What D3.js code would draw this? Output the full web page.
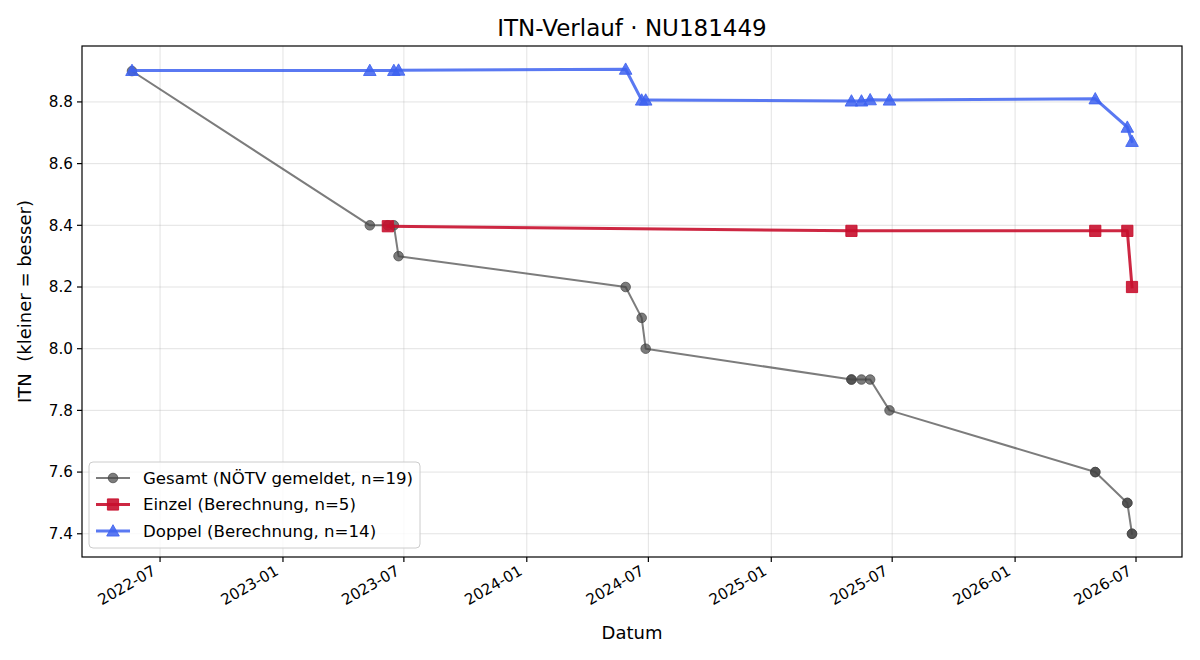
<!DOCTYPE html>
<html>
<head>
<meta charset="utf-8">
<script src="https://cdn.jsdelivr.net/npm/d3@7"></script>
<style>
  body { margin: 0; background: #fff; }
  text { font-family: "DejaVu Sans", sans-serif; fill: #000; }
</style>
</head>
<body>
<script>
// Gesamt (NÖTV gemeldet)
var gesamtDates = ['2022-05-20', '2023-05-11', '2023-06-07', '2023-06-16', '2023-06-23',
  '2024-05-28', '2024-06-21', '2024-06-27', '2025-05-01', '2025-05-01', '2025-05-16',
  '2025-05-29', '2025-06-27', '2026-05-01', '2026-05-01', '2026-06-18', '2026-06-18',
  '2026-06-25', '2026-06-25'];
var gesamtValues = [8.9, 8.4, 8.4, 8.4, 8.3, 8.2, 8.1, 8.0, 7.9, 7.9, 7.9, 7.9, 7.8,
  7.6, 7.6, 7.5, 7.5, 7.4, 7.4];

// Einzel (Berechnung)
var einzelDates = ['2023-06-07', '2025-05-01', '2026-05-01', '2026-06-18', '2026-06-25'];
var einzelValues = [8.397, 8.382, 8.382, 8.382, 8.2];

// Doppel (Berechnung)
var doppelDates = ['2022-05-20', '2023-05-11', '2023-06-16', '2023-06-23', '2024-05-28',
  '2024-06-21', '2024-06-27', '2025-05-01', '2025-05-16', '2025-05-29', '2025-06-27',
  '2026-05-01', '2026-06-18', '2026-06-25'];
var doppelValues = [8.902, 8.902, 8.902, 8.903, 8.906, 8.806, 8.806, 8.803, 8.803,
  8.807, 8.806, 8.81, 8.718, 8.672];

var yTicks = [7.4, 7.6, 7.8, 8.0, 8.2, 8.4, 8.6, 8.8];

var parse = d3.timeParse('%Y-%m-%d');
function zip(dates, values) {
  return dates.map(function (d, i) { return {date: parse(d), value: values[i]}; });
}

var series = [
  {name: 'Gesamt (NÖTV gemeldet, n=19)', data: zip(gesamtDates, gesamtValues),
   color: '#444444', opacity: 0.7, width: 2, marker: 'circle', size: 4.8},
  {name: 'Einzel (Berechnung, n=5)', data: zip(einzelDates, einzelValues),
   color: '#c8102e', opacity: 0.9, width: 3, marker: 'square', size: 5.6},
  {name: 'Doppel (Berechnung, n=14)', data: zip(doppelDates, doppelValues),
   color: '#3d62f0', opacity: 0.85, width: 3, marker: 'triangle', size: 6.3}
];

var width = 1200, height = 660;
var margin = {top: 46, right: 18, bottom: 103, left: 82};
var innerW = width - margin.left - margin.right;
var innerH = height - margin.top - margin.bottom;

var svg = d3.select('body').append('svg')
    .attr('width', width)
    .attr('height', height);

var all = [];
series.forEach(function (s) { all = all.concat(s.data); });

var xExt = d3.extent(all, function (d) { return d.date; });
var xPad = (xExt[1] - xExt[0]) * 0.05;
var x = d3.scaleTime()
    .domain([new Date(+xExt[0] - xPad), new Date(+xExt[1] + xPad)])
    .range([0, innerW]);

var yExt = d3.extent(all, function (d) { return d.value; });
var yPad = (yExt[1] - yExt[0]) * 0.05;
var y = d3.scaleLinear()
    .domain([yExt[0] - yPad, yExt[1] + yPad])
    .range([innerH, 0]);

var g = svg.append('g')
    .attr('transform', 'translate(' + margin.left + ',' + margin.top + ')');

var xTicks = x.ticks(d3.timeMonth.every(6));

// grid
g.append('g').selectAll('line.vx')
    .data(xTicks)
    .enter().append('line')
    .attr('x1', function (d) { return x(d); })
    .attr('x2', function (d) { return x(d); })
    .attr('y1', 0).attr('y2', innerH)
    .attr('stroke', '#b0b0b0').attr('stroke-opacity', 0.35).attr('stroke-width', 1);

g.append('g').selectAll('line.hy')
    .data(yTicks)
    .enter().append('line')
    .attr('x1', 0).attr('x2', innerW)
    .attr('y1', function (d) { return y(d); })
    .attr('y2', function (d) { return y(d); })
    .attr('stroke', '#b0b0b0').attr('stroke-opacity', 0.35).attr('stroke-width', 1);

// series
var line = d3.line()
    .x(function (d) { return x(d.date); })
    .y(function (d) { return y(d.value); });

function markerPath(s) {
  var r = s.size;
  if (s.marker === 'circle') return d3.symbol(d3.symbolCircle, Math.PI * r * r)();
  if (s.marker === 'square') return d3.symbol(d3.symbolSquare, 4 * r * r)();
  return 'M0,' + (-r) + 'L' + r + ',' + (r * 0.8) + 'L' + (-r) + ',' + (r * 0.8) + 'Z';
}

series.forEach(function (s) {
  var sg = g.append('g');
  sg.append('path')
      .datum(s.data)
      .attr('d', line)
      .attr('fill', 'none')
      .attr('stroke', s.color)
      .attr('stroke-opacity', s.opacity)
      .attr('stroke-width', s.width)
      .attr('stroke-linejoin', 'round')
      .attr('stroke-linecap', 'square');

  sg.selectAll('path.m')
      .data(s.data)
      .enter().append('path')
      .attr('class', 'm')
      .attr('d', markerPath(s))
      .attr('transform', function (d) {
        return 'translate(' + x(d.date) + ',' + y(d.value) + ')';
      })
      .attr('fill', s.color)
      .attr('fill-opacity', s.opacity)
      .attr('stroke', s.color)
      .attr('stroke-opacity', s.opacity)
      .attr('stroke-width', 1);
});

// frame
g.append('rect')
    .attr('width', innerW).attr('height', innerH)
    .attr('fill', 'none').attr('stroke', '#000').attr('stroke-width', 1.2);

// x axis
var xAxis = g.append('g')
    .attr('transform', 'translate(0,' + innerH + ')');
xAxis.selectAll('line')
    .data(xTicks)
    .enter().append('line')
    .attr('x1', function (d) { return x(d); })
    .attr('x2', function (d) { return x(d); })
    .attr('y1', 0).attr('y2', 5)
    .attr('stroke', '#000').attr('stroke-width', 1.2);
xAxis.selectAll('text')
    .data(xTicks)
    .enter().append('text')
    .attr('transform', function (d) {
      return 'translate(' + (x(d) - 9) + ',' + 7 + ') rotate(-30)';
    })
    .attr('text-anchor', 'end')
    .attr('dy', '0.75em')
    .style('font-size', '15.2px')
    .text(d3.timeFormat('%Y-%m'));

// y axis
var yAxis = g.append('g');
yAxis.selectAll('line')
    .data(yTicks)
    .enter().append('line')
    .attr('x1', -5).attr('x2', 0)
    .attr('y1', function (d) { return y(d); })
    .attr('y2', function (d) { return y(d); })
    .attr('stroke', '#000').attr('stroke-width', 1.2);
yAxis.selectAll('text')
    .data(yTicks)
    .enter().append('text')
    .attr('x', -9)
    .attr('y', function (d) { return y(d); })
    .attr('dy', '0.35em')
    .attr('text-anchor', 'end')
    .style('font-size', '15.2px')
    .text(d3.format('.1f'));

// labels
svg.append('text')
    .attr('x', margin.left + innerW / 2)
    .attr('y', 36)
    .attr('text-anchor', 'middle')
    .style('font-size', '23px')
    .text('ITN-Verlauf · NU181449');

svg.append('text')
    .attr('x', margin.left + innerW / 2)
    .attr('y', 639)
    .attr('text-anchor', 'middle')
    .style('font-size', '18px')
    .text('Datum');

svg.append('text')
    .attr('transform', 'translate(31,' + (margin.top + innerH / 2) + ') rotate(-90)')
    .attr('text-anchor', 'middle')
    .style('font-size', '18px')
    .text('ITN\u00a0\u00a0(kleiner = besser)');

// legend
var legend = svg.append('g').attr('transform', 'translate(89,462)');
legend.append('rect')
    .attr('width', 331).attr('height', 86)
    .attr('rx', 4).attr('ry', 4)
    .attr('fill', '#fff').attr('fill-opacity', 0.8)
    .attr('stroke', '#cccccc').attr('stroke-width', 1);

var item = legend.selectAll('g.item')
    .data(series)
    .enter().append('g')
    .attr('transform', function (d, i) { return 'translate(0,' + (16 + i * 26.5) + ')'; });

item.append('line')
    .attr('x1', 7).attr('x2', 41).attr('y1', 0).attr('y2', 0)
    .attr('stroke', function (d) { return d.color; })
    .attr('stroke-opacity', function (d) { return d.opacity; })
    .attr('stroke-width', function (d) { return d.width; });

item.append('path')
    .attr('d', function (d) { return markerPath(d); })
    .attr('transform', 'translate(24,0)')
    .attr('fill', function (d) { return d.color; })
    .attr('fill-opacity', function (d) { return d.opacity; })
    .attr('stroke', function (d) { return d.color; })
    .attr('stroke-opacity', function (d) { return d.opacity; });

item.append('text')
    .attr('x', 54)
    .attr('dy', '0.35em')
    .style('font-size', '16.6px')
    .text(function (d) { return d.name; });
</script>
</body>
</html>
